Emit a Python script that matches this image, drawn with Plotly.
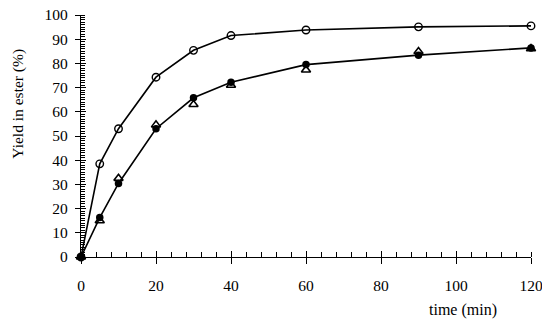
import plotly.graph_objects as go

time_min = [0, 5, 10, 20, 30, 40, 60, 90, 120]
open_circles = [0, 38.5, 53, 74.3, 85.4, 91.5, 93.8, 95.1, 95.5]
filled_circles = [0, 16.3, 30.4, 53, 65.8, 72.2, 79.5, 83.4, 86.4]
open_triangles = [0, 15, 32.5, 54.6, 63, 71, 77.3, 84.9, 86.1]

x_ticks = [0, 20, 40, 60, 80, 100, 120]
y_ticks = [0, 10, 20, 30, 40, 50, 60, 70, 80, 90, 100]

fig = go.Figure()
fig.add_trace(go.Scatter(x=time_min, y=open_circles, mode="lines+markers", cliponaxis=False,
                         line=dict(color="black", width=1.6),
                         marker=dict(symbol="circle-open", size=7.5, color="black", line=dict(width=1.4))))
fig.add_trace(go.Scatter(x=time_min, y=filled_circles, mode="lines+markers", cliponaxis=False,
                         line=dict(color="black", width=1.6),
                         marker=dict(symbol="circle", size=7.5, color="black")))
fig.add_trace(go.Scatter(x=time_min, y=open_triangles, mode="markers", cliponaxis=False,
                         marker=dict(symbol="triangle-up-open", size=8, color="black", line=dict(width=1.6))))
# invisible trace to activate the overlay axes that draw the inner half of major ticks
fig.add_trace(go.Scatter(x=[0], y=[0], xaxis="x2", yaxis="y2", mode="markers",
                         marker=dict(opacity=0), hoverinfo="skip"))

font = dict(family="Liberation Serif", size=15.5, color="black")
fig.update_layout(
    template="none",
    width=542, height=313,
    margin=dict(l=73, r=19, t=7, b=64, autoexpand=False),
    paper_bgcolor="white", plot_bgcolor="white",
    showlegend=False,
    font=font,
    xaxis=dict(range=[0, 120], tickvals=x_ticks, ticks="outside", ticklen=6, tickwidth=1.3,
               tickcolor="black",
               showline=True, linecolor="black", linewidth=1.3, showgrid=False, zeroline=False,
               minor=dict(tickmode="linear", dtick=4, tick0=0, ticks="inside", ticklen=5, tickwidth=1,
                          tickcolor="black", showgrid=False),
               tickfont=font, automargin=False, ticklabelstandoff=8, ticklabeloverflow="allow"),
    xaxis2=dict(range=[0, 120], overlaying="x", anchor="y", side="bottom", tickvals=x_ticks,
                ticks="inside", ticklen=6, tickwidth=1.3, tickcolor="black", showticklabels=False,
                showline=False, showgrid=False, zeroline=False, automargin=False),
    yaxis=dict(range=[0, 100], tickvals=y_ticks, ticks="outside", ticklen=5, tickwidth=1.3,
               tickcolor="black",
               showline=True, linecolor="black", linewidth=1.3, showgrid=False, zeroline=False,
               minor=dict(tickmode="linear", dtick=1, tick0=0, ticks="inside", ticklen=4, tickwidth=1,
                          tickcolor="black", showgrid=False),
               tickfont=font, automargin=False, ticklabelstandoff=4, ticklabeloverflow="allow"),
    yaxis2=dict(range=[0, 100], overlaying="y", anchor="x", side="left", tickvals=y_ticks,
                ticks="inside", ticklen=5, tickwidth=1.3, tickcolor="black", showticklabels=False,
                showline=False, showgrid=False, zeroline=False, automargin=False),
)
fig.add_annotation(text="Yield in ester (%)", x=-0.142, y=0.634, xref="paper", yref="paper",
                   textangle=-90, showarrow=False, font=font, xanchor="center", yanchor="middle")
fig.add_annotation(text="time (min)", x=0.848, y=-0.219, xref="paper", yref="paper",
                   showarrow=False, font=dict(family="Liberation Serif", size=16, color="black"),
                   xanchor="center", yanchor="middle")
fig.write_html("out.html")
